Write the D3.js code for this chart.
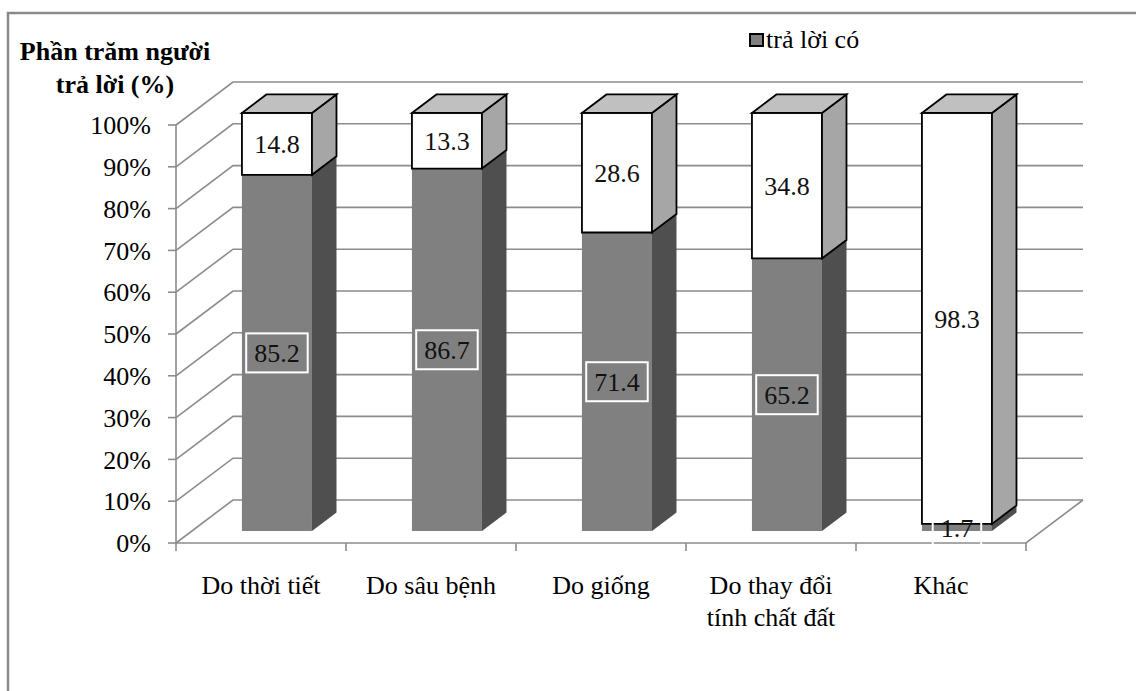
<!DOCTYPE html>
<html>
<head>
<meta charset="utf-8">
<script src="https://cdn.jsdelivr.net/npm/d3@7"></script>
<style>
  body { margin: 0; background: #fff; }
</style>
</head>
<body>
<script>
// Reasons for yield loss: share of respondents answering "yes" vs. the remainder
const categoryLines = [
  ["Do thời tiết"],
  ["Do sâu bệnh"],
  ["Do giống"],
  ["Do thay đổi", "tính chất đất"],
  ["Khác"]
];
const categories = categoryLines.map(l => l.join(" "));
const yesValues = [85.2, 86.7, 71.4, 65.2, 1.7];
const noValues = [14.8, 13.3, 28.6, 34.8, 98.3];
const tickValues = [0, 10, 20, 30, 40, 50, 60, 70, 80, 90, 100];
const tickLabels = tickValues.map(v => v + "%");
const legendLabel = "trả lời có";
const titleLines = ["Phần trăm người", "trả lời (%)"];

const W = 1136, H = 691;
const svg = d3.select("body").append("svg").attr("width", W).attr("height", H)
  .attr("font-family", "'Liberation Serif', 'DejaVu Serif', serif");

// Oblique 3D frame: front plane + depth vector
const DX = 57, DY = -43;
const x = d3.scaleBand().domain(categories).range([176, 1026])
  .paddingInner(0.588).paddingOuter(0.294);
const y = d3.scaleLinear().domain([0, 100]).range([543, 125]);
const P = (px, v, d) => [px + DX * d, y(v) + DY * d];
const D0 = 0.28, D1 = 0.71;   // bar depth range

const gridColor = "#8c8c8c";
const font = 26;

// Outer frame
svg.append("path").attr("d", `M8,${H} L8,13 L${W},13`)
  .attr("fill", "none").attr("stroke", "#8a8a8a").attr("stroke-width", 2.5);

// Walls: side-wall diagonals and back-wall gridlines
const grid = svg.append("g").attr("stroke", gridColor).attr("stroke-width", 1.6).attr("fill", "none");
const [xl, xr] = x.range();
tickValues.forEach(v => {
  const a = P(xl, v, 0), b = P(xl, v, 1), c = P(xr, v, 1);
  grid.append("path").attr("d", `M${a}L${b}L${c}`);
});
// Floor right edge and front edge
grid.append("path").attr("d", `M${P(xl, 0, 0)}L${P(xr, 0, 0)}L${P(xr, 0, 1)}`);
// Vertical axis
grid.append("line").attr("x1", xl).attr("x2", xl).attr("y1", y(0)).attr("y2", y(100));
// Value ticks
tickValues.forEach(v => {
  grid.append("line").attr("x1", xl - 8).attr("x2", xl).attr("y1", y(v)).attr("y2", y(v));
});
// Category boundary ticks
const step = x.step();
d3.range(categories.length + 1).forEach(i => {
  const px = xl + i * step;
  grid.append("line").attr("x1", px).attr("x2", px).attr("y1", y(0)).attr("y2", y(0) + 8);
});

// Tick labels
svg.append("g").selectAll("text").data(tickValues).join("text")
  .attr("x", 151).attr("y", d => y(d)).attr("dy", "0.35em")
  .attr("text-anchor", "end").attr("font-size", font)
  .text((d, i) => tickLabels[i]);

// Stacked data
const rows = categories.map((c, i) => ({ cat: c, yes: yesValues[i], no: noValues[i] }));
const series = d3.stack().keys(["yes", "no"])(rows);

const styles = {
  yes: { front: "#808080", side: "#4f4f4f", top: "#9a9a9a", stroke: "none" },
  no: { front: "#ffffff", side: "#a6a6a6", top: "#c0c0c0", stroke: "#000" }
};

const bars = svg.append("g");
rows.forEach((row, i) => {
  const x0 = x(row.cat), x1 = x0 + x.bandwidth();
  series.forEach((s, k) => {
    const [lo, hi] = s[i];
    const st = styles[s.key];
    const isTop = k === series.length - 1;
    const g = bars.append("g")
      .attr("stroke", st.stroke).attr("stroke-width", 1.8).attr("stroke-linejoin", "miter");
    // front face
    g.append("path").attr("fill", st.front)
      .attr("d", `M${P(x0, hi, D0)}L${P(x1, hi, D0)}L${P(x1, lo, D0)}L${P(x0, lo, D0)}Z`);
    // side face
    g.append("path").attr("fill", st.side)
      .attr("d", `M${P(x1, hi, D0)}L${P(x1, hi, D1)}L${P(x1, lo, D1)}L${P(x1, lo, D0)}Z`);
    if (isTop) {
      g.append("path").attr("fill", st.top)
        .attr("d", `M${P(x0, hi, D0)}L${P(x0, hi, D1)}L${P(x1, hi, D1)}L${P(x1, hi, D0)}Z`);
    }
  });
});

// Value labels with white-edged boxes
const labels = svg.append("g");
rows.forEach((row, i) => {
  const cx = x(row.cat) + x.bandwidth() / 2 + DX * D0;
  series.forEach(s => {
    const [lo, hi] = s[i];
    const val = row[s.key];
    const cy = y((lo + hi) / 2) + DY * D0;
    const t = labels.append("text")
      .attr("x", cx).attr("y", cy).attr("dy", "0.35em")
      .attr("text-anchor", "middle").attr("font-size", font).attr("fill", "#111")
      .text(val.toFixed(1));
    const bb = t.node().getBBox();
    labels.insert("rect", "text")
      .attr("x", cx - bb.width / 2 - 8).attr("y", cy - 19.5)
      .attr("width", bb.width + 16).attr("height", 39)
      .attr("fill", "none").attr("stroke", "#fff").attr("stroke-width", 2);
  });
});

// Category labels
const cl = svg.append("g");
categoryLines.forEach((lines, i) => {
  const cx = x(categories[i]) + x.bandwidth() / 2;
  const t = cl.append("text").attr("text-anchor", "middle").attr("font-size", font);
  lines.forEach((ln, j) => {
    t.append("tspan").attr("x", cx).attr("y", 594 + j * 32).text(ln);
  });
});

// Title
const title = svg.append("text").attr("text-anchor", "middle")
  .attr("font-size", font).attr("font-weight", "bold");
titleLines.forEach((ln, j) => {
  title.append("tspan").attr("x", 115).attr("y", 60 + j * 33).text(ln);
});

// Legend
svg.append("rect").attr("x", 750).attr("y", 34).attr("width", 13).attr("height", 12)
  .attr("fill", "#808080").attr("stroke", "#000").attr("stroke-width", 2);
svg.append("text").attr("x", 766).attr("y", 48).attr("font-size", font).text(legendLabel);
</script>
</body>
</html>
